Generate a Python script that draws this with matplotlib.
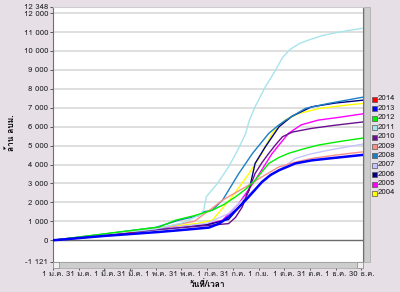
import matplotlib
matplotlib.use("Agg")
import matplotlib.pyplot as plt
from matplotlib import font_manager as fm
from matplotlib.ft2font import FT2Font
from matplotlib.patches import Rectangle
from matplotlib.lines import Line2D

# ---- find a font with Thai glyphs ----
thai_fonts = []
for fe in fm.fontManager.ttflist:
    try:
        f = FT2Font(fe.fname)
        if f.get_char_index(0x0E01) and fe.name not in thai_fonts:
            thai_fonts.append(fe.name)
    except Exception:
        pass
families = thai_fonts[:1] + ["DejaVu Sans"]
plt.rcParams['font.family'] = families

# ---- data ----
years = ["2014", "2013", "2012", "2011", "2010", "2009", "2008", "2007", "2006", "2005", "2004"]
colors = ["#ff0000", "#0000ff", "#00ee00", "#a8e4ec", "#6a0f8e", "#f89088",
          "#1a7fc4", "#c4c4ff", "#000080", "#ff00ff", "#ffff00"]

d2014 = [0, 30, 60, 95]
v2014 = [0, 110, 240, 400]
d2013 = [0, 60, 124, 150, 182, 194, 205, 215, 225, 235, 244, 254, 264, 283, 302, 322, 345, 362]
v2013 = [0, 230, 440, 540, 670, 880, 1230, 1650, 2120, 2620, 3080, 3450, 3700, 4060, 4220, 4320, 4430, 4510]
d2012 = [0, 60, 124, 143, 165, 186, 200, 213, 225, 236, 252, 264, 275, 292, 310, 335, 362]
v2012 = [0, 340, 700, 1060, 1300, 1590, 1900, 2290, 2700, 3170, 4060, 4380, 4590, 4820, 5030, 5220, 5400]
d2011 = [0, 60, 120, 150, 172, 176, 179, 192, 205, 215, 225, 229, 236, 248, 260, 268, 276, 288, 300, 315, 330, 345, 362]
v2011 = [0, 300, 600, 900, 1350, 1600, 2300, 3000, 3880, 4700, 5640, 6300, 7050, 8110, 8990, 9650, 10050, 10400, 10600, 10820, 10960, 11080, 11200]
d2010 = [0, 60, 120, 180, 205, 213, 221, 229, 236, 244, 252, 260, 268, 280, 302, 330, 362]
v2010 = [0, 280, 560, 780, 880, 1200, 1760, 2700, 3530, 4100, 4590, 5050, 5470, 5720, 5910, 6080, 6250]
d2009 = [0, 60, 120, 165, 186, 198, 225, 244, 264, 285, 302, 330, 362]
v2009 = [0, 300, 620, 1000, 1700, 2120, 2820, 3350, 3880, 4150, 4320, 4500, 4670]
d2008 = [0, 60, 120, 147, 170, 176, 186, 198, 217, 225, 233, 252, 264, 272, 295, 322, 362]
v2008 = [0, 330, 680, 1060, 1300, 1500, 1590, 2120, 3530, 4060, 4590, 5650, 6100, 6350, 6970, 7230, 7560]
d2007 = [0, 60, 120, 180, 205, 225, 252, 275, 283, 300, 322, 362]
v2007 = [0, 280, 560, 900, 1410, 2290, 3350, 4060, 4320, 4550, 4760, 5080]
d2006 = [0, 60, 120, 180, 205, 221, 229, 236, 248, 264, 279, 302, 330, 362]
v2006 = [0, 280, 560, 820, 1100, 1940, 2650, 4060, 4940, 6000, 6550, 7050, 7250, 7400]
d2005 = [0, 60, 120, 180, 198, 217, 236, 256, 275, 290, 310, 335, 362]
v2005 = [0, 300, 600, 850, 1060, 1940, 3170, 4590, 5650, 6100, 6350, 6500, 6680]
d2004 = [0, 60, 120, 170, 186, 209, 229, 244, 256, 271, 287, 310, 335, 362]
v2004 = [0, 310, 620, 900, 1060, 2290, 3530, 4590, 5650, 6350, 6700, 6950, 7100, 7230]

series_days = [d2014, d2013, d2012, d2011, d2010, d2009, d2008, d2007, d2006, d2005, d2004]
series_vals = [v2014, v2013, v2012, v2011, v2010, v2009, v2008, v2007, v2006, v2005, v2004]

xtick_days = [0, 30, 60, 90, 120, 150, 180, 210, 240, 270, 300, 330, 360]
xtick_labels = ["1 ม.ค.", "31 ม.ค.", "1 มี.ค.", "31 มี.ค.", "1 พ.ค.", "31 พ.ค.", "1 ก.ค.",
                "31 ก.ค.", "1 ก.ย.", "1 ต.ค.", "31 ต.ค.", "1 ธ.ค.", "30 ธ.ค."]
ymin, ymax = -1121, 12348
yticks = [ymin] + list(range(0, 12001, 1000)) + [ymax]

# ---- figure ----
W, H = 400, 292
bg = "#e6dfe6"
fig = plt.figure(figsize=(W / 100, H / 100), dpi=100, facecolor=bg)
L, R, T, B = 53, 363, 6.5, 261.5
ax = fig.add_axes([L / W, 1 - B / H, (R - L) / W, (B - T) / H])
ax.set_facecolor("white")

for yv in range(1000, 12001, 1000):
    ax.axhline(yv, color="#d9d9d9", lw=1.2, zorder=1)
ax.axhline(0, color="#6a6a6a", lw=1.0, zorder=1)

order = list(range(len(years)))[::-1]
for i in order:
    lw = 1.8 if years[i] == "2013" else 1.0
    ax.plot(series_days[i], series_vals[i], color=colors[i], lw=lw, zorder=3 + (len(years) - i) * 0.01 + (1 if years[i] == "2013" else 0))

ax.set_xlim(0, 362)
ax.set_ylim(ymin, ymax)
ax.set_xticks(xtick_days)
ax.set_xticklabels(xtick_labels, fontsize=5.6, color="#222222")
ax.set_yticks(yticks)
ax.set_yticklabels([f"{v:,}".replace(",", " ") for v in yticks], fontsize=5.6, color="#222222")
ax.tick_params(axis="x", length=6, width=0.7, pad=0.8, color="#555555")
ax.tick_params(axis="y", length=2.5, width=0.7, pad=1, color="#555555")
for s in ["left", "right", "bottom", "top"]:
    ax.spines[s].set_color("#707070")
    ax.spines[s].set_linewidth(0.8)
ax.spines["top"].set_color("#cccccc")

ax.set_xlabel("วันที่/เวลา", fontsize=6, fontweight="bold", labelpad=1.5)
fig.text(11 / W, 1 - 133 / H, "ล้าน ลบม.", rotation=90, fontsize=6, fontweight="bold",
         ha="center", va="center")

# scrollbars (decoration)
fig.patches.append(Rectangle((L / W, 1 - 267.5 / H), (R - L) / W, 6 / H, transform=fig.transFigure,
                             facecolor="#cdcdcd", edgecolor="#a8a8a8", lw=0.5, zorder=5))
fig.patches.append(Rectangle((L / W, 1 - 267.5 / H), 6 / W, 6 / H, transform=fig.transFigure,
                             facecolor="#f0f0f0", edgecolor="#888888", lw=0.5, zorder=6))
fig.patches.append(Rectangle(((R - 6) / W, 1 - 267.5 / H), 6 / W, 6 / H, transform=fig.transFigure,
                             facecolor="#f0f0f0", edgecolor="#888888", lw=0.5, zorder=6))
fig.patches.append(Rectangle((364 / W, 1 - B / H), 6 / W, (B - T) / H, transform=fig.transFigure,
                             facecolor="#cdcdcd", edgecolor="#a8a8a8", lw=0.5, zorder=5))

# legend
for k, (name, c) in enumerate(zip(years, colors)):
    yy = 1 - (99 + k * 9.4) / H
    fig.add_artist(Line2D([373.5 / W], [yy], marker="s", markersize=3.6, markerfacecolor=c,
                          markeredgecolor="#555555", markeredgewidth=0.5, linestyle="none",
                          transform=fig.transFigure))
    fig.text(378 / W, yy, name, fontsize=5.6, va="center", ha="left", color="#222222")

fig.savefig("out.png", dpi=100, facecolor=bg)
